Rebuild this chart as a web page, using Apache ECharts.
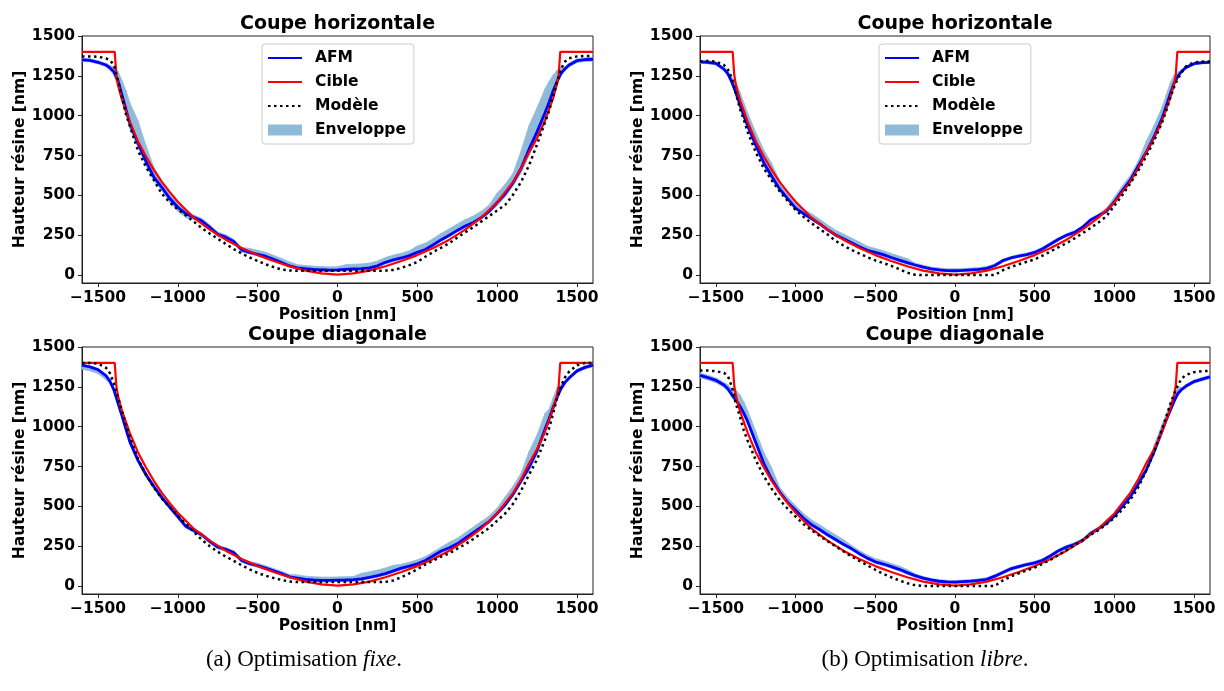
<!DOCTYPE html>
<html><head><meta charset="utf-8">
<script src="https://cdn.jsdelivr.net/npm/echarts@6/dist/echarts.min.js"></script>
<style>html,body{margin:0;padding:0;background:#fff}#c{width:1224px;height:691px}</style>
</head><body><div id="c"></div>
<script>
// ---------- data ----------
const X = [-1600,-1550,-1500,-1450,-1425,-1400,-1375,-1350,-1325,-1300,-1250,-1200,-1150,-1100,-1050,-1000,-950,-900,-850,-800,-750,-700,-650,-600,-550,-500,-450,-400,-350,-300,-250,-200,-150,-100,-50,0,50,100,150,200,250,300,350,400,450,500,550,600,650,700,750,800,850,900,950,1000,1050,1100,1150,1200,1250,1300,1325,1350,1375,1400,1425,1450,1500,1550,1600];

const CIBLE_X = [-1600,-1395,-1385,-1375,-1350,-1300,-1250,-1200,-1150,-1100,-1050,-1000,-900,-800,-700,-600,-500,-400,-300,-200,-100,0,100,200,300,400,500,600,700,800,900,1000,1050,1100,1150,1200,1250,1300,1350,1375,1385,1395,1600];
const CIBLE_Y = [1400,1400,1255,1195,1100,960,840,745,660,585,520,460,360,285,222,170,125,88,55,28,10,3,10,28,55,88,125,170,222,285,360,455,520,585,670,770,860,970,1110,1200,1255,1400,1400];

// (a) fixe - horizontal
const FH_AFM = [1350,1347,1335,1318,1300,1275,1220,1130,1040,950,830,715,615,550,480,425,385,362,340,300,255,238,210,158,142,130,118,98,78,57,45,40,36,33,31,32,35,38,40,45,58,80,95,107,122,143,160,190,222,250,280,308,330,360,400,455,510,580,670,790,900,1020,1085,1155,1215,1265,1295,1318,1345,1352,1354];
const FH_MODELE = [1372,1372,1370,1360,1348,1318,1225,1120,1010,935,782,680,595,510,455,412,375,335,295,260,228,195,163,135,110,88,67,50,35,28,27,27,27,27,27,27,27,27,27,27,27,28,32,45,62,82,115,145,172,200,235,268,300,335,370,405,440,505,585,690,820,960,1030,1120,1210,1295,1340,1360,1372,1375,1375];
const FH_ENV_LO = [1340,1337,1325,1308,1285,1255,1180,1100,1010,920,800,690,590,530,455,400,360,347,325,285,240,223,195,143,132,120,108,88,68,47,35,30,26,23,21,22,25,28,30,35,48,70,85,97,112,133,150,180,212,240,270,298,320,350,390,435,490,560,640,750,860,980,1045,1125,1195,1250,1283,1306,1333,1340,1342];
const FH_ENV_HI = [1360,1357,1345,1328,1315,1305,1280,1220,1160,1080,970,815,675,590,505,450,410,377,355,315,270,253,225,173,167,155,143,123,103,82,65,60,56,53,51,52,65,68,70,75,88,110,125,137,152,183,200,230,262,290,320,348,370,400,440,515,570,640,780,940,1050,1170,1215,1255,1285,1305,1307,1330,1357,1364,1366];

// (b) libre - horizontal
const LH_AFM = [1338,1335,1328,1292,1262,1210,1145,1070,1000,935,815,705,620,540,480,420,385,355,322,285,252,228,202,178,155,142,128,110,94,78,63,50,38,32,28,27,29,32,35,42,60,90,107,118,128,142,165,195,225,250,268,300,345,372,400,460,530,595,685,770,870,985,1060,1135,1205,1250,1282,1303,1326,1333,1335];
const LH_MODELE = [1342,1343,1340,1318,1290,1235,1140,1045,975,895,770,670,595,525,465,408,365,325,290,255,215,185,158,135,112,92,75,58,37,15,2,0,0,0,0,0,0,0,0,0,0,30,50,68,83,98,122,148,175,200,230,262,295,330,368,435,502,575,655,745,845,960,1030,1110,1180,1235,1275,1310,1335,1339,1340];
const LH_ENV_LO = [1328,1325,1318,1282,1252,1195,1125,1050,980,915,795,685,600,525,470,410,375,345,312,275,242,218,192,168,145,132,118,100,84,68,55,42,30,24,20,19,21,24,27,34,52,82,99,110,120,134,157,187,217,242,260,292,337,364,390,450,520,585,675,755,855,970,1045,1120,1190,1240,1274,1295,1318,1325,1327];
const LH_ENV_HI = [1348,1345,1338,1302,1277,1240,1205,1150,1080,1015,895,785,700,590,510,450,415,385,352,315,282,258,232,208,180,167,153,135,119,103,75,62,50,44,40,39,41,44,47,54,70,100,117,128,138,152,175,205,235,260,278,310,355,382,420,490,560,625,715,840,940,1055,1130,1205,1255,1275,1290,1311,1334,1341,1343];

// (a) fixe - diagonal
const FD_AFM = [1386,1375,1358,1320,1285,1230,1150,1070,985,905,790,700,625,555,495,435,375,348,322,280,245,230,210,160,140,128,112,95,78,58,50,42,38,36,36,37,38,40,45,55,65,78,95,112,125,140,160,190,220,240,265,300,335,370,405,455,510,578,660,745,850,985,1050,1120,1185,1240,1278,1305,1350,1372,1386];
const FD_MODELE = [1400,1400,1395,1370,1335,1270,1185,1100,1015,935,800,700,618,550,495,440,390,340,290,250,215,185,158,130,105,82,65,50,38,28,25,25,25,25,25,25,25,25,25,25,25,26,35,55,80,105,135,160,185,205,235,262,295,330,365,410,455,517,600,700,795,920,990,1080,1180,1255,1310,1345,1385,1400,1400];
const FD_ENV_LO = [1361,1350,1333,1295,1270,1215,1135,1055,970,890,775,685,610,540,480,420,363,336,310,268,233,218,198,148,130,118,102,85,68,48,40,32,28,26,26,27,28,30,35,45,55,68,85,102,115,130,150,180,210,230,255,290,325,360,395,445,495,563,645,725,830,965,1030,1100,1165,1225,1268,1295,1340,1362,1376];
const FD_ENV_HI = [1391,1380,1363,1325,1300,1245,1165,1095,1010,930,805,715,640,570,510,450,387,360,334,292,257,242,222,172,155,143,127,110,93,73,70,62,58,56,56,57,58,60,80,90,100,113,130,137,150,165,185,215,245,275,300,335,370,405,440,490,560,628,710,845,950,1085,1110,1180,1245,1265,1288,1315,1360,1382,1396];

// (b) libre - diagonal
const LD_AFM = [1322,1308,1291,1262,1238,1200,1168,1130,1085,1030,900,770,670,590,525,475,425,385,355,322,292,262,235,203,175,152,138,122,105,84,65,50,38,30,26,25,28,31,35,42,62,85,108,122,135,145,162,190,222,245,262,285,330,360,395,440,500,560,640,728,845,975,1040,1100,1160,1210,1236,1255,1283,1298,1312];
const LD_MODELE = [1352,1352,1348,1338,1318,1250,1145,1065,975,910,790,690,610,540,485,435,388,350,315,282,250,218,186,158,130,102,76,55,35,18,5,0,0,0,0,0,0,0,0,0,0,35,60,80,98,116,140,165,195,225,255,288,320,350,388,428,480,540,620,725,840,990,1060,1140,1205,1265,1305,1325,1342,1348,1350];
const LD_ENV_LO = [1307,1293,1276,1247,1223,1185,1153,1115,1070,1015,885,755,655,580,515,465,415,375,345,312,282,252,225,193,165,142,128,112,95,74,55,40,28,20,16,15,18,21,25,32,52,75,98,112,125,135,152,180,212,235,252,275,320,350,385,430,490,550,630,718,835,965,1030,1090,1150,1200,1226,1245,1273,1288,1302];
const LD_ENV_HI = [1337,1323,1306,1277,1263,1235,1230,1200,1155,1100,970,840,740,620,555,505,455,415,385,352,322,292,255,223,195,172,158,142,125,104,75,60,48,40,36,35,38,41,45,52,72,95,118,132,145,155,172,200,232,255,272,295,340,370,405,450,510,570,650,738,885,1015,1080,1140,1200,1250,1246,1265,1293,1308,1322];

const X_TICKS = [-1500,-1000,-500,0,500,1000,1500];
const Y_TICKS = [0,250,500,750,1000,1250,1500];
const TITLES = ['Coupe horizontale','Coupe horizontale','Coupe diagonale','Coupe diagonale'];
const LEGEND_NAMES = ['AFM','Cible','Modèle','Enveloppe'];

// ---------- layout ----------
const FONT = 'DejaVu Sans';
const ENV_COLOR = '#8fbbd9';
const GRIDS = [
  {left:82, top:36, width:511, height:247},
  {left:700, top:36, width:510, height:247},
  {left:82, top:347, width:511, height:247},
  {left:700, top:347, width:510, height:247}
];
const PANELS = [
  {afm:FH_AFM, mod:FH_MODELE, lo:FH_ENV_LO, hi:FH_ENV_HI},
  {afm:LH_AFM, mod:LH_MODELE, lo:LH_ENV_LO, hi:LH_ENV_HI},
  {afm:FD_AFM, mod:FD_MODELE, lo:FD_ENV_LO, hi:FD_ENV_HI},
  {afm:LD_AFM, mod:LD_MODELE, lo:LD_ENV_LO, hi:LD_ENV_HI}
];
const pairs = (xs, ys) => xs.map((x, i) => [x, ys[i]]);
const minus = v => String(v).replace('-', '\u2212');
const tickFont = {fontFamily:FONT, fontWeight:'bold', fontSize:15.5, color:'#000'};

function envRender(params, api) {
  const p0lo = api.coord([api.value(0), api.value(1)]);
  const p0hi = api.coord([api.value(0), api.value(2)]);
  const p1lo = api.coord([api.value(3), api.value(4)]);
  const p1hi = api.coord([api.value(3), api.value(5)]);
  return {
    type:'polygon',
    shape:{points:[p0lo, p1lo, p1hi, p0hi]},
    style:{fill:ENV_COLOR, stroke:ENV_COLOR, lineWidth:0.8}
  };
}

const xAxis = [], yAxis = [], series = [], title = [];
GRIDS.forEach((g, i) => {
  xAxis.push({
    gridIndex:i, type:'value', min:-1600, max:1600,
    name:'Position [nm]', nameLocation:'middle', nameGap:24,
    nameTextStyle:tickFont,
    axisLine:{show:true, onZero:false, lineStyle:{color:'#222', width:1}},
    axisTick:{show:true, length:4, customValues:X_TICKS, lineStyle:{color:'#222'}},
    axisLabel:Object.assign({customValues:X_TICKS, margin:7, formatter:minus}, tickFont),
    splitLine:{show:false}
  });
  yAxis.push({
    gridIndex:i, type:'value', min:-50, max:1500,
    name:'Hauteur résine [nm]', nameLocation:'middle', nameRotate:90, nameGap:54,
    nameTextStyle:tickFont,
    axisLine:{show:true, onZero:false, lineStyle:{color:'#222', width:1}},
    axisTick:{show:true, length:4, customValues:Y_TICKS, lineStyle:{color:'#222'}},
    axisLabel:Object.assign({customValues:Y_TICKS, margin:7, formatter:minus}, tickFont),
    splitLine:{show:false}
  });
  const p = PANELS[i];
  series.push({
    name:'Enveloppe', type:'custom', xAxisIndex:i, yAxisIndex:i, z:1, silent:true, clip:true,
    data:X.slice(0, -1).map((x, k) => [x, p.lo[k], p.hi[k], X[k + 1], p.lo[k + 1], p.hi[k + 1]]),
    encode:{x:[0, 3], y:[1, 2, 4, 5]},
    itemStyle:{color:ENV_COLOR},
    renderItem:envRender
  });
  series.push({
    name:'AFM', type:'line', xAxisIndex:i, yAxisIndex:i, data:pairs(X, p.afm),
    symbol:'none', z:2, itemStyle:{color:'#0000ff'}, lineStyle:{color:'#0000ff', width:2.8}
  });
  series.push({
    name:'Cible', type:'line', xAxisIndex:i, yAxisIndex:i, data:pairs(CIBLE_X, CIBLE_Y),
    symbol:'none', z:3, itemStyle:{color:'#ff0000'}, lineStyle:{color:'#ff0000', width:2.2}
  });
  series.push({
    name:'Modèle', type:'line', xAxisIndex:i, yAxisIndex:i, data:pairs(X, p.mod),
    symbol:'none', z:4, itemStyle:{color:'#000'},
    lineStyle:{color:'#000', width:2.5, type:[2.5,3.5], cap:'butt'}
  });
  title.push({
    text:TITLES[i], left:g.left + g.width/2, top:g.top - 21, textAlign:'center', padding:0,
    textStyle:{fontFamily:FONT, fontWeight:'bold', fontSize:19, color:'#000'}
  });
});

const capStyle = {
  fontWeight:'normal',
  rich:{
    n:{fontFamily:'Liberation Serif', fontWeight:'normal', fontSize:23, color:'#000'},
    i:{fontFamily:'Liberation Serif', fontWeight:'normal', fontStyle:'italic', fontSize:23, color:'#000'}
  }
};
title.push({text:'{n|(a) Optimisation }{i|fixe}{n|.}', left:304, top:648, textAlign:'center', padding:0, textStyle:capStyle});
title.push({text:'{n|(b) Optimisation }{i|libre}{n|.}', left:925, top:648, textAlign:'center', padding:0, textStyle:capStyle});

function mkLegend(left) {
  return {
    orient:'vertical', left:left, top:44, itemWidth:34, itemHeight:11, itemGap:8,
    padding:[6,8,6,5], borderColor:'#cccccc', borderWidth:1, borderRadius:3,
    backgroundColor:'rgba(255,255,255,0.8)', selectedMode:false,
    textStyle:{fontFamily:FONT, fontWeight:'bold', fontSize:15.5, color:'#000', padding:[0,0,0,8]},
    data:[
      {name:LEGEND_NAMES[0], itemStyle:{opacity:0}},
      {name:LEGEND_NAMES[1], itemStyle:{opacity:0}},
      {name:LEGEND_NAMES[2], itemStyle:{opacity:0}},
      {name:LEGEND_NAMES[3], icon:'rect', itemStyle:{color:ENV_COLOR, opacity:1}}
    ]
  };
}

const chart = echarts.init(document.getElementById('c'), null, {renderer:'canvas', width:1224, height:691});
chart.setOption({
  animation:false,
  backgroundColor:'#fff',
  grid:GRIDS.map(g => Object.assign({show:true, borderColor:'#222', borderWidth:1, backgroundColor:'transparent'}, g)),
  xAxis, yAxis, series, title,
  legend:[mkLegend(262), mkLegend(879)]
});
</script>
</body></html>
